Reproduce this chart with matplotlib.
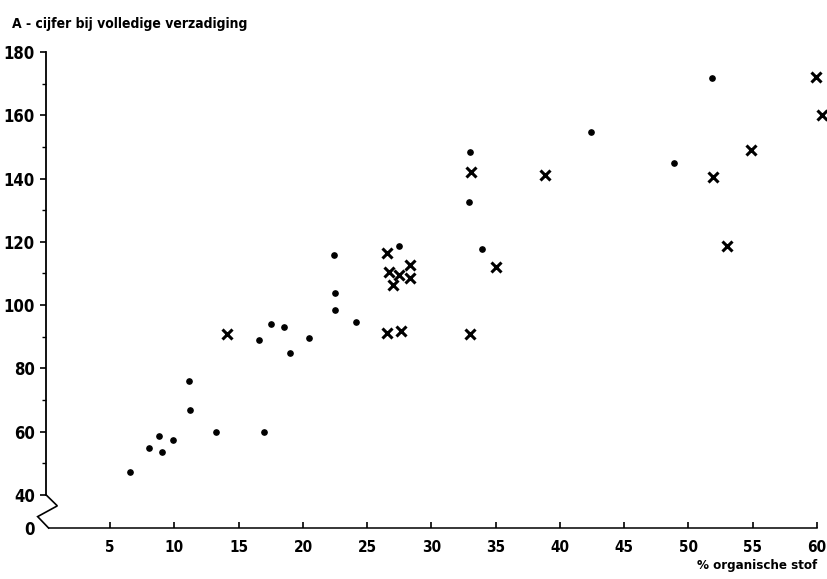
import matplotlib
matplotlib.use("Agg")
import matplotlib.pyplot as plt
from matplotlib.ticker import FixedLocator

FONT = ['Liberation Sans Narrow', 'DejaVu Sans']
plt.rcParams['font.family'] = FONT
plt.rcParams['font.weight'] = 'bold'
plt.rcParams['font.stretch'] = 'condensed'

# Dots
dot_x = [6.5, 8.0, 8.8, 9.0, 9.9, 11.2, 11.1, 13.2, 17.0, 16.6, 17.5, 18.5, 19.0,
         20.5, 22.5, 22.4, 22.5, 24.1, 27.5, 33.0, 32.9, 33.9, 42.4, 48.9, 51.8]
dot_y = [47.3, 54.7, 58.5, 53.4, 57.2, 66.7, 76.0, 59.8, 59.7, 88.8, 93.9, 93.0, 84.7,
         89.7, 98.4, 115.8, 103.7, 94.5, 118.6, 148.4, 132.7, 117.6, 154.6, 144.8, 171.8]
# Crosses
crs_x = [14.1, 26.5, 26.7, 27.5, 27.0, 28.3, 28.3, 26.5, 27.6, 33.1, 35.0, 33.0,
         38.8, 51.9, 54.9, 53.0, 59.9, 60.4]
crs_y = [90.9, 116.5, 110.3, 109.6, 106.3, 112.7, 108.4, 91.2, 91.7, 142.1, 112.1, 90.9,
         141.1, 140.6, 149.1, 118.7, 172.0, 160.2]

x_ticks = [5, 10, 15, 20, 25, 30, 35, 40, 45, 50, 55, 60]
y_ticks = [40, 60, 80, 100, 120, 140, 160, 180]
y_minor = [50, 70, 90, 110, 130, 150, 170]
Y_ZERO = 29.5  # position of the "0" after the axis break

fig = plt.figure(figsize=(8.28, 5.79), dpi=100)
ax = fig.add_axes([46/828, 1-528/579, (817-46)/828, (528-52)/579])
ax.set_xlim(0, 60)
ax.set_ylim(Y_ZERO, 180)

ax.plot(dot_x, dot_y, 'o', color='black', ms=3.8, clip_on=False, zorder=3)
ax.plot(crs_x, crs_y, 'x', color='black', ms=6.5, mew=2.2, clip_on=False, zorder=3)

for s in ['top', 'right']:
    ax.spines[s].set_visible(False)
ax.spines['left'].set_bounds(40, 180)
ax.spines['left'].set_linewidth(1.3)
ax.spines['bottom'].set_linewidth(1.1)
ax.spines['bottom'].set_bounds(0.2, 60)

# axis break zigzag
ax.plot([0, 0.88, -0.65, 0.2], [40, 36.5, 33.1, Y_ZERO], color='black', lw=1.2,
        clip_on=False, solid_joinstyle='miter')

ax.yaxis.set_major_locator(FixedLocator(y_ticks + [Y_ZERO]))
ax.set_yticklabels([str(v) for v in y_ticks] + ['0'])
ax.yaxis.set_minor_locator(FixedLocator(y_minor))
ax.tick_params(axis='y', which='major', direction='out', length=4, width=1.2,
               labelsize=12, pad=4)
ax.tick_params(axis='y', which='minor', direction='out', length=3, width=1)
ax.yaxis.get_major_ticks()[-1].tick1line.set_visible(False)

ax.set_xticks(x_ticks)
ax.set_xticklabels([str(v) for v in x_ticks])
ax.tick_params(axis='x', direction='in', length=4, width=1.2, labelsize=11, pad=9)

for lab in ax.get_xticklabels() + ax.get_yticklabels():
    lab.set_fontweight('bold')
    lab.set_fontstretch('condensed')

fig.text(817/828, 1-566/579, '% organische stof', ha='right', va='center',
         fontsize=9.5, fontweight='bold', fontstretch='condensed')
fig.text(12/828, 1-24/579, 'A - cijfer bij volledige verzadiging', ha='left', va='center',
         fontsize=10, fontweight='bold', fontstretch='condensed')

fig.savefig('out.png', dpi=100)
